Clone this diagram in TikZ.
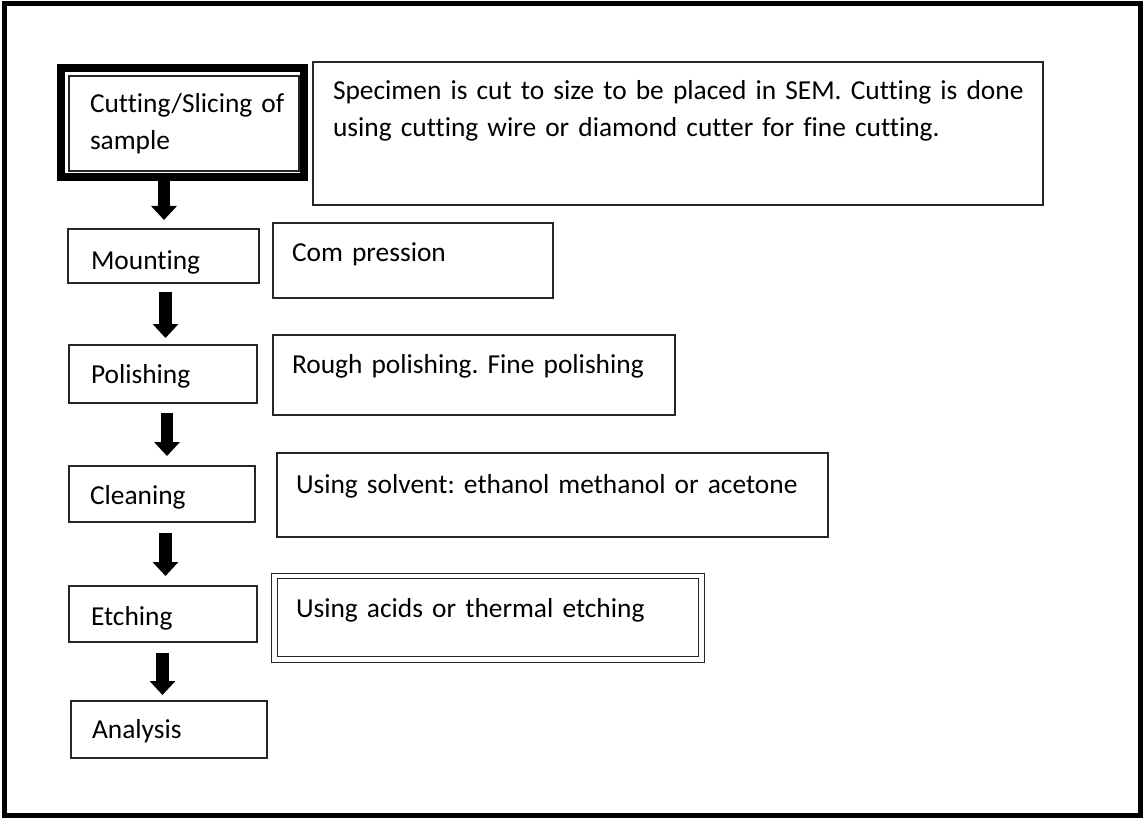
\documentclass[tikz,border=0pt]{standalone}
\usepackage{fontspec}
\setmainfont{Carlito}[Ligatures=CommonOff]
\usetikzlibrary{arrows.meta,calc}
\frenchspacing
\begin{document}
\begin{tikzpicture}[x=1pt,y=-1pt,
  every node/.style={inner sep=0pt, outer sep=0pt, anchor=north west, align=left,
    font=\fontsize{27.4}{37}\selectfont, text=black},
  box/.style={draw=black!85, line width=1.5pt},
  dbox/.style={draw=black!85, line width=1.2pt, double=white, double distance=4.3pt},
  flowarrow/.style={line width=12.5pt, -{Triangle[width=25pt,length=14pt]}},
]
\useasboundingbox (0,0) rectangle (1143,818);
% outer frame
\draw[line width=5pt] (4.5,3.5) rectangle (1140.5,815.5);

% process steps
\node[box, inner xsep=21pt, text width=188pt, text height=37pt, text depth=58pt] (cut) at (69,76)
  {\mbox{Cutting/Slicing of}\\sample};
\draw[line width=7.5pt] ($(cut.north west)+(-8,-8)$) rectangle ($(cut.south east)+(5,6)$);
\node[box, inner xsep=23pt, text width=145pt, text height=41pt, text depth=13pt] (mount) at (68,229) {Mounting};
\node[box, inner xsep=22pt, text width=144pt, text height=38pt, text depth=20pt] (pol) at (69,345) {Polishing};
\node[box, inner xsep=21pt, text width=144pt, text height=38pt, text depth=18pt] (clean) at (69,466) {Cleaning};
\node[box, inner xsep=22pt, text width=144pt, text height=39pt, text depth=17pt] (etch) at (69,586) {Etching};
\node[box, inner xsep=21pt, text width=154pt, text height=37pt, text depth=20pt] (ana) at (71,701) {Analysis};

% descriptions
\node[box, inner xsep=20pt, text width=690pt, text height=38pt, text depth=105pt] (spec) at (313,62)
  {\mbox{Specimen is cut to size to be placed in SEM. Cutting is done}\\
   \mbox{using cutting wire or diamond cutter for fine cutting.}};
\node[box, inner xsep=19pt, text width=242pt, text height=39pt, text depth=36pt] (comp) at (273,223) {Com pression};
\node[box, inner xsep=19pt, text width=364pt, text height=38pt, text depth=42pt] (rough) at (273,335) {Rough polishing. Fine polishing};
\node[box, inner xsep=19pt, text width=513pt, text height=40pt, text depth=44pt] (solv) at (277,453) {Using solvent: ethanol methanol or acetone};
\node[dbox, inner xsep=21.5pt, text width=384pt, text height=41pt, text depth=42.5pt] (acid) at (274.5,576) {Using acids or thermal etching};

% flow arrows
\draw[flowarrow] ($(cut.south)+(-20,10)$) -- ($(mount.north)+(0.5,-9)$);
\draw[flowarrow] ($(mount.south)+(2,9)$) -- ($(pol.north)+(2.5,-7)$);
\draw[flowarrow] ($(pol.south)+(4,10)$) -- ($(clean.north)+(5,-10)$);
\draw[flowarrow] ($(clean.south)+(3.5,11)$) -- ($(etch.north)+(2.5,-10)$);
\draw[flowarrow] ($(etch.south)+(-0.5,11)$) -- ($(ana.north)+(-6.5,-6)$);
\end{tikzpicture}
\end{document}
